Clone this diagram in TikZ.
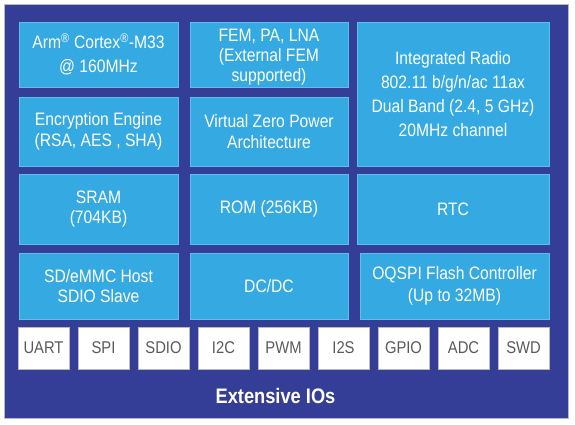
\documentclass[tikz,border=0pt]{standalone}
\usepackage{fontspec}
\setmainfont{Liberation Sans}[FakeStretch=0.87]
\usetikzlibrary{positioning}
\definecolor{chipback}{RGB}{52,62,151}
\definecolor{chipblue}{RGB}{53,169,225}
\definecolor{chipedge}{RGB}{95,190,235}
\definecolor{iotext}{RGB}{90,90,90}
\definecolor{ioedge}{RGB}{185,185,195}
\tikzset{
every picture/.style={x=1pt, y=-1pt},
%%%%%%%%%%  Node styles
block/.style args={#1,#2}{fill=chipblue, draw=chipedge, line width=0.6pt,
                 text=white, align=center, inner sep=0pt,
                 minimum width=#1pt, minimum height=#2pt,
                 font=\fontsize{18}{21.5}\selectfont},
tight/.style={font=\fontsize{18}{20}\selectfont},
loose/.style={font=\fontsize{18}{24}\selectfont},
iobox/.style={fill=white, draw=ioedge, line width=0.6pt, text=iotext,
                 inner sep=0pt, minimum width=51pt, minimum height=42pt,
                 font=\fontsize{17}{20}\selectfont},
%%%%%%% Fill styles
chip/.style={fill=chipback, draw=ioedge, line width=0.6pt}
}

\begin{document}
\begin{tikzpicture}
\useasboundingbox (0,0) rectangle (575,424);
%% the chip body
\draw[chip] (4,4) rectangle (568,418);
%% left column
\node[block={159,65}, loose] (cpu) at (98.5,54.5) {Arm\textsuperscript{\textregistered} Cortex\textsuperscript{\textregistered}-M33\\@ 160MHz};
\node[block={159,69}] (crypto) at (98.5,131.5) {Encryption Engine\\(RSA, AES , SHA)};
\node[block={159,70}, tight] (sram) at (98.5,209) {SRAM\\(704KB)};
\node[block={159,66}, tight] (sdio) at (98.5,286) {SD/eMMC Host\\SDIO Slave};
%% middle column
\fill[chipblue] (190,22) rectangle (348,87);
\draw[chipedge, line width=0.6pt] (190,22) rectangle (348,87);
\node[text=white, align=center, tight] (fem) at (269,57) {FEM, PA, LNA\\(External FEM\\supported)};
\node[block={158,69}] (power) at (269,131.5) {Virtual Zero Power\\Architecture};
\node[block={158,70}] (rom) at (269,209) {ROM (256KB)};
\node[block={158,66}] (dcdc) at (269,286) {DC/DC};
%% right column
\node[block={192,144}, loose] (radio) at (453,94) {Integrated Radio\\802.11 b/g/n/ac 11ax\\Dual Band (2.4, 5 GHz)\\20MHz channel};
\node[block={192,70}] (rtc) at (453,209) {RTC};
\node[block={189,66}] (flash) at (454.5,286) {OQSPI Flash Controller\\(Up to 32MB)};
%% the IO row
\foreach \io [count=\i from 0] in {UART,SPI,SDIO,I2C,PWM,I2S,GPIO,ADC,SWD}
  \node[iobox] (io\i) at (43.5+60*\i,348) {\io};
\node[text=white, font=\bfseries\fontsize{21}{24}\selectfont] (ios) at (275.5,396) {Extensive IOs};
\end{tikzpicture}
\end{document}
